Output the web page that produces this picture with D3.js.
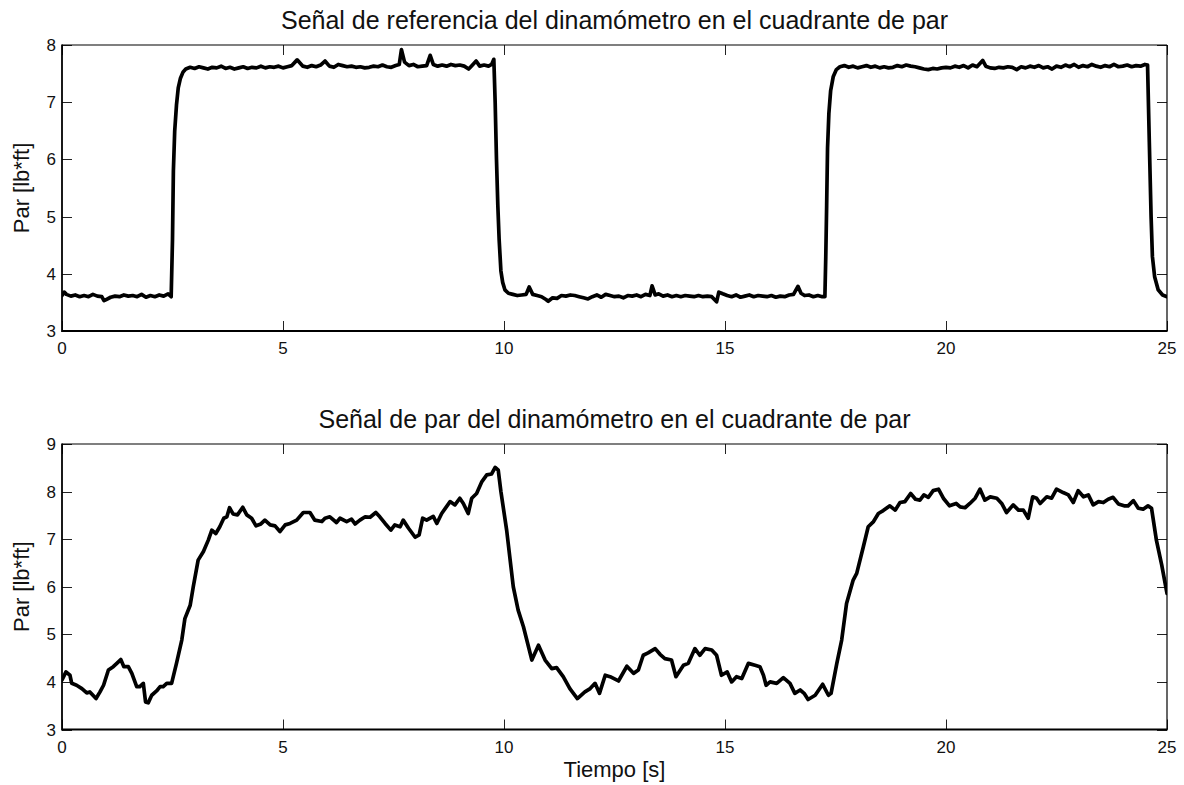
<!DOCTYPE html>
<html><head><meta charset="utf-8">
<script src="https://cdn.jsdelivr.net/npm/d3@7"></script>
<style>body{margin:0;background:#fff}svg{display:block}text{font-family:"Liberation Sans",Arial,sans-serif;fill:#111}</style>
</head><body>
<svg id="c" width="1184" height="785"></svg>
<script>
// ---- data ----
const xTicks = [0, 5, 10, 15, 20, 25];
const refYTicks = [3, 4, 5, 6, 7, 8];
const parYTicks = [3, 4, 5, 6, 7, 8, 9];
const refTitle = "Señal de referencia del dinamómetro en el cuadrante de par";
const parTitle = "Señal de par del dinamómetro en el cuadrante de par";
const yLabel = "Par [lb*ft]";
const xLabel = "Tiempo [s]";

const refT = [0.0,0.05,0.1,0.2,0.3,0.4,0.5,0.6,0.7,0.8,0.9,0.95,1.0,1.1,1.2,1.3,1.4,1.5,1.6,1.7,1.8,1.9,2.0,2.1,2.2,2.3,2.4,2.47,
 2.50,2.52,2.55,2.59,2.63,2.68,2.74,2.80,
 2.9,3.0,3.1,3.2,3.3,3.4,3.5,3.6,3.7,3.8,3.9,4.0,4.1,4.2,4.3,4.4,4.5,4.6,4.7,4.8,4.9,5.0,5.1,5.2,5.32,5.45,5.55,5.65,5.75,5.85,5.95,6.05,6.15,6.25,6.35,6.45,6.55,6.65,6.75,6.85,6.95,7.05,7.15,7.25,7.35,7.45,7.55,7.63,7.68,7.75,7.85,7.95,8.05,8.15,8.25,8.33,8.40,8.5,8.6,8.7,8.8,8.9,9.0,9.1,9.2,9.25,9.37,9.45,9.55,9.65,9.72,9.77,
 9.80,9.83,9.86,9.89,9.93,9.97,10.02,10.1,
 10.2,10.3,10.4,10.5,10.57,10.65,10.75,10.85,10.95,11.0,11.1,11.2,11.3,11.4,11.5,11.6,11.7,11.8,11.9,12.0,12.1,12.2,12.3,12.4,12.5,12.6,12.7,12.8,12.9,13.0,13.1,13.2,13.3,13.35,13.42,13.5,13.6,13.7,13.8,13.9,14.0,14.1,14.2,14.3,14.4,14.5,14.6,14.7,14.81,14.86,14.95,15.05,15.15,15.25,15.35,15.45,15.55,15.65,15.75,15.85,15.95,16.05,16.15,16.25,16.35,16.45,16.55,16.65,16.72,16.8,16.9,17.0,17.1,17.2,17.26,
 17.28,17.30,17.32,17.35,17.39,17.45,17.52,17.6,
 17.7,17.8,17.9,18.0,18.1,18.2,18.3,18.4,18.5,18.6,18.7,18.8,18.9,19.0,19.1,19.2,19.3,19.4,19.5,19.6,19.7,19.8,19.9,20.0,20.1,20.2,20.3,20.4,20.5,20.6,20.7,20.83,20.9,21.0,21.1,21.2,21.3,21.4,21.5,21.6,21.7,21.8,21.9,22.0,22.1,22.2,22.3,22.4,22.5,22.6,22.7,22.8,22.9,23.0,23.1,23.2,23.3,23.4,23.5,23.6,23.7,23.8,23.9,24.0,24.1,24.2,24.3,24.4,24.5,24.56,
 24.60,24.64,24.67,24.72,24.80,24.9,25.0];
const refV = [3.62,3.68,3.64,3.61,3.63,3.60,3.62,3.60,3.64,3.61,3.60,3.53,3.55,3.59,3.61,3.60,3.63,3.61,3.62,3.60,3.64,3.59,3.62,3.60,3.63,3.61,3.65,3.60,
 4.60,5.80,6.50,6.95,7.25,7.42,7.53,7.58,
 7.61,7.59,7.62,7.60,7.58,7.61,7.60,7.63,7.59,7.61,7.58,7.60,7.62,7.59,7.61,7.60,7.63,7.60,7.62,7.61,7.63,7.60,7.62,7.64,7.74,7.63,7.61,7.64,7.62,7.65,7.72,7.63,7.61,7.66,7.64,7.62,7.63,7.61,7.62,7.60,7.61,7.63,7.62,7.65,7.62,7.61,7.64,7.66,7.92,7.70,7.64,7.66,7.62,7.63,7.64,7.82,7.66,7.63,7.65,7.63,7.66,7.64,7.65,7.63,7.58,7.62,7.72,7.63,7.65,7.63,7.66,7.75,
 7.00,6.00,5.20,4.60,4.05,3.85,3.72,3.66,
 3.64,3.62,3.63,3.64,3.77,3.64,3.62,3.60,3.55,3.52,3.58,3.57,3.62,3.61,3.63,3.62,3.60,3.58,3.56,3.60,3.63,3.59,3.64,3.62,3.60,3.61,3.58,3.62,3.61,3.63,3.60,3.64,3.62,3.79,3.63,3.65,3.61,3.63,3.60,3.62,3.60,3.62,3.61,3.60,3.62,3.60,3.61,3.60,3.51,3.68,3.65,3.62,3.60,3.63,3.59,3.61,3.63,3.60,3.62,3.61,3.60,3.62,3.59,3.61,3.60,3.63,3.64,3.78,3.66,3.62,3.63,3.60,3.62,3.60,3.60,
 4.30,5.20,6.20,6.80,7.20,7.45,7.57,7.62,
 7.64,7.61,7.63,7.60,7.62,7.64,7.61,7.63,7.60,7.62,7.60,7.61,7.64,7.62,7.65,7.63,7.62,7.60,7.58,7.57,7.59,7.58,7.60,7.61,7.60,7.63,7.61,7.64,7.60,7.65,7.62,7.73,7.63,7.60,7.59,7.61,7.60,7.62,7.61,7.57,7.62,7.60,7.63,7.61,7.64,7.60,7.62,7.58,7.63,7.61,7.65,7.62,7.66,7.61,7.64,7.62,7.66,7.63,7.61,7.64,7.62,7.66,7.62,7.63,7.65,7.62,7.64,7.63,7.66,7.65,
 6.30,5.00,4.30,3.95,3.72,3.63,3.60];

const parT = [0.0,0.09,0.18,0.22,0.33,0.45,0.56,0.63,0.77,0.86,0.94,1.05,1.16,1.24,1.33,1.40,1.50,1.58,1.69,1.76,1.84,1.89,1.95,2.03,2.14,2.22,2.29,2.37,2.48,2.59,2.71,2.78,2.90,2.97,3.08,3.20,3.31,3.39,3.48,3.57,3.66,3.73,3.79,3.87,3.97,4.09,4.18,4.29,4.39,4.50,4.59,4.71,4.82,4.93,5.05,5.16,5.31,5.46,5.61,5.72,5.88,5.95,6.06,6.21,6.29,6.44,6.55,6.63,6.74,6.86,6.97,7.10,7.19,7.31,7.44,7.53,7.65,7.72,7.84,7.99,8.08,8.16,8.25,8.40,8.48,8.59,8.78,8.89,9.00,9.08,9.19,9.27,9.38,9.50,9.61,9.72,9.80,9.87,9.93,10.06,10.21,10.32,10.44,10.63,10.78,10.93,11.08,11.19,11.34,11.49,11.66,11.83,11.95,12.06,12.16,12.29,12.40,12.59,12.78,12.93,13.04,13.15,13.26,13.42,13.53,13.64,13.79,13.89,14.06,14.17,14.32,14.43,14.55,14.70,14.81,14.92,15.05,15.15,15.26,15.38,15.53,15.68,15.79,15.87,15.93,16.02,16.17,16.32,16.47,16.58,16.70,16.79,16.88,17.04,17.21,17.34,17.40,17.53,17.64,17.75,17.90,17.98,18.13,18.24,18.36,18.47,18.58,18.73,18.85,18.96,19.07,19.20,19.31,19.41,19.50,19.60,19.71,19.83,19.94,20.08,20.23,20.32,20.43,20.54,20.66,20.77,20.88,21.0,21.15,21.26,21.37,21.52,21.64,21.75,21.86,21.96,22.05,22.13,22.28,22.39,22.50,22.65,22.77,22.88,22.99,23.11,23.22,23.33,23.45,23.56,23.67,23.78,23.90,24.03,24.12,24.24,24.35,24.46,24.57,24.65,24.76,24.88,25.0];
const parV = [4.04,4.21,4.14,3.97,3.93,3.86,3.77,3.79,3.65,3.79,3.93,4.25,4.32,4.39,4.47,4.32,4.32,4.18,3.90,3.90,3.97,3.58,3.56,3.72,3.81,3.90,3.90,3.97,3.97,4.39,4.88,5.33,5.61,6.00,6.56,6.74,6.98,7.19,7.12,7.26,7.44,7.47,7.66,7.53,7.51,7.67,7.51,7.44,7.28,7.32,7.40,7.30,7.28,7.16,7.30,7.33,7.40,7.56,7.56,7.40,7.37,7.44,7.47,7.35,7.44,7.37,7.42,7.32,7.40,7.47,7.46,7.56,7.47,7.33,7.19,7.30,7.26,7.40,7.23,7.04,7.09,7.44,7.40,7.48,7.33,7.54,7.79,7.72,7.86,7.75,7.54,7.86,7.96,8.21,8.35,8.37,8.51,8.45,8.00,7.19,6.00,5.51,5.16,4.46,4.77,4.46,4.28,4.30,4.11,3.86,3.65,3.79,3.86,3.97,3.76,4.14,4.11,4.02,4.33,4.18,4.25,4.56,4.61,4.70,4.58,4.49,4.46,4.11,4.35,4.39,4.70,4.56,4.70,4.67,4.56,4.14,4.21,4.00,4.11,4.07,4.39,4.35,4.32,4.14,3.93,4.00,3.97,4.09,3.97,3.76,3.83,3.76,3.63,3.72,3.95,3.72,3.76,4.39,4.88,5.65,6.14,6.28,6.84,7.26,7.37,7.54,7.60,7.70,7.61,7.77,7.79,7.96,7.84,7.82,7.93,7.88,8.02,8.05,7.86,7.70,7.75,7.68,7.66,7.75,7.86,8.05,7.82,7.89,7.86,7.75,7.56,7.72,7.61,7.61,7.44,7.89,7.86,7.75,7.89,7.86,8.05,7.98,7.93,7.77,8.02,7.89,7.93,7.72,7.79,7.77,7.84,7.88,7.74,7.70,7.70,7.81,7.65,7.63,7.70,7.65,6.98,6.46,5.86];

// ---- drawing ----
const svg = d3.select("#c");
const L = 62, R = 1167;
const x = d3.scaleLinear().domain([0, 25]).range([L, R]);

function panel(id, top, bottom, yDomain, yTicks, T, V, title, withXLabel) {
  const y = d3.scaleLinear().domain(yDomain).range([bottom, top]);
  const g = svg.append("g");
  g.append("clipPath").attr("id", id).append("rect")
    .attr("x", L).attr("y", top).attr("width", R - L).attr("height", bottom - top);

  const tickLen = 10;
  const tg = g.append("g").attr("stroke", "#222").attr("stroke-width", 1);
  xTicks.forEach(t => {
    const xx = Math.round(x(t)) + 0.5;
    tg.append("line").attr("x1", xx).attr("x2", xx).attr("y1", bottom).attr("y2", bottom - tickLen);
    tg.append("line").attr("x1", xx).attr("x2", xx).attr("y1", top).attr("y2", top + tickLen);
  });
  yTicks.forEach(t => {
    const yy = Math.round(y(t)) + 0.5;
    tg.append("line").attr("x1", L).attr("x2", L + tickLen).attr("y1", yy).attr("y2", yy);
    tg.append("line").attr("x1", R).attr("x2", R - tickLen).attr("y1", yy).attr("y2", yy);
  });

  g.append("line").attr("x1", L).attr("x2", R).attr("y1", top).attr("y2", top).attr("stroke", "#000").attr("stroke-width", 1.2);
  g.append("line").attr("x1", R).attr("x2", R).attr("y1", top).attr("y2", bottom).attr("stroke", "#000").attr("stroke-width", 1.2);
  g.append("line").attr("x1", L).attr("x2", R + 0.6).attr("y1", bottom).attr("y2", bottom).attr("stroke", "#000").attr("stroke-width", 1.8);
  g.append("line").attr("x1", L).attr("x2", L).attr("y1", top - 0.6).attr("y2", bottom + 0.9).attr("stroke", "#000").attr("stroke-width", 1.8);

  xTicks.forEach(t => {
    g.append("text").attr("x", x(t)).attr("y", bottom + 23).attr("text-anchor", "middle")
      .attr("font-size", 17).text(t);
  });
  yTicks.forEach(t => {
    g.append("text").attr("x", L - 6).attr("y", y(t) + 6).attr("text-anchor", "end")
      .attr("font-size", 17).text(t);
  });

  const pts = T.map((t, i) => [t, V[i]]);
  g.append("path").datum(pts).attr("clip-path", `url(#${id})`)
    .attr("fill", "none").attr("stroke", "#000").attr("stroke-width", 3.7)
    .attr("stroke-linejoin", "round").attr("stroke-linecap", "round")
    .attr("d", d3.line().x(d => x(d[0])).y(d => y(d[1])));

  g.append("text").attr("x", (L + R) / 2).attr("y", top - 16).attr("text-anchor", "middle")
    .attr("font-size", 25).text(title);
  g.append("text").attr("transform", `translate(29,${(top + bottom) / 2}) rotate(-90)`)
    .attr("text-anchor", "middle").attr("font-size", 22).text(yLabel);
  if (withXLabel) {
    g.append("text").attr("x", (L + R) / 2).attr("y", bottom + 47).attr("text-anchor", "middle")
      .attr("font-size", 22).text(xLabel);
  }
}

panel("clipA", 45, 331, [3, 8], refYTicks, refT, refV, refTitle, false);
panel("clipB", 444, 729.5, [3, 9], parYTicks, parT, parV, parTitle, true);
</script>
</body></html>
